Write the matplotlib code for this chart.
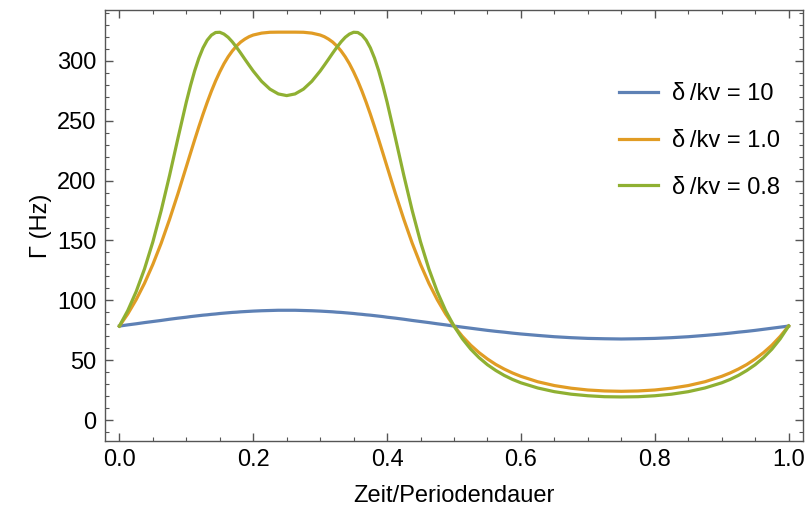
import matplotlib
matplotlib.use("Agg")
import matplotlib.pyplot as plt
from matplotlib.ticker import MultipleLocator

plt.rcParams['font.family'] = ['Liberation Sans', 'DejaVu Sans']

# Zeit in Einheiten der Periodendauer
t = [0, 0.0125, 0.025, 0.0375, 0.05, 0.0625, 0.075, 0.0875, 0.1, 0.10625,
     0.1125, 0.11875, 0.125, 0.13125, 0.1375, 0.14375, 0.15, 0.15625, 0.1625, 0.16875,
     0.175, 0.18125, 0.1875, 0.19375, 0.2, 0.2125, 0.225, 0.2375, 0.25,
     0.2625, 0.275, 0.2875, 0.3, 0.30625, 0.3125, 0.31875, 0.325, 0.33125, 0.3375,
     0.34375, 0.35, 0.35625, 0.3625, 0.36875, 0.375, 0.38125, 0.3875, 0.39375, 0.4,
     0.4125, 0.425, 0.4375, 0.45, 0.4625, 0.475, 0.4875, 0.5,
     0.5125, 0.525, 0.5375, 0.55, 0.5625, 0.575, 0.5875, 0.6, 0.625, 0.65,
     0.675, 0.7, 0.725, 0.75,
     0.775, 0.8, 0.825, 0.85, 0.875, 0.9, 0.9125, 0.925, 0.9375, 0.95,
     0.9625, 0.975, 0.9875, 1.0]

# Gamma (Hz) fuer delta/kv = 10
g_10 = [78.5, 79.5, 80.4, 81.4, 82.3, 83.2, 84.2, 85.1, 85.9, 86.4,
        86.8, 87.2, 87.6, 87.9, 88.3, 88.6, 89.0, 89.3, 89.6, 89.9,
        90.1, 90.4, 90.6, 90.8, 91.0, 91.3, 91.5, 91.7, 91.7,
        91.7, 91.5, 91.3, 91.0, 90.8, 90.6, 90.4, 90.1, 89.9, 89.6,
        89.3, 89.0, 88.6, 88.3, 87.9, 87.6, 87.2, 86.8, 86.4, 85.9,
        85.1, 84.2, 83.2, 82.3, 81.4, 80.4, 79.5, 78.5,
        77.6, 76.7, 75.8, 74.9, 74.1, 73.4, 72.6, 71.9, 70.7, 69.6,
        68.8, 68.2, 67.9, 67.7,
        67.9, 68.2, 68.8, 69.6, 70.7, 71.9, 72.6, 73.4, 74.1, 74.9,
        75.8, 76.7, 77.6, 78.5]

# delta/kv = 1.0
g_1 = [78.5, 88.6, 100.5, 114.2, 130.0, 147.8, 167.7, 189.1, 211.6, 222.9,
       234.1, 245.0, 255.5, 265.4, 274.7, 283.2, 290.8, 297.6, 303.4, 308.3,
       312.4, 315.7, 318.2, 320.2, 321.6, 323.2, 323.9, 324.0, 324.0,
       324.0, 323.9, 323.2, 321.6, 320.2, 318.2, 315.7, 312.4, 308.3, 303.4,
       297.6, 290.8, 283.2, 274.7, 265.4, 255.5, 245.0, 234.1, 222.9, 211.6,
       189.1, 167.7, 147.8, 130.0, 114.2, 100.5, 88.6, 78.5,
       69.9, 62.5, 56.3, 51.0, 46.4, 42.6, 39.3, 36.5, 32.0, 28.8,
       26.6, 25.1, 24.3, 24.0,
       24.3, 25.1, 26.6, 28.8, 32.0, 36.5, 39.3, 42.6, 46.4, 51.0,
       56.3, 62.5, 69.9, 78.5]

# delta/kv = 0.8
g_08 = [78.5, 91.4, 107.2, 126.2, 148.8, 175.1, 204.4, 235.4, 265.6, 279.3,
        291.7, 302.3, 310.9, 317.3, 321.5, 323.7, 323.9, 322.4, 319.7, 315.9,
        311.4, 306.5, 301.4, 296.4, 291.5, 282.9, 276.4, 272.4, 271.0,
        272.4, 276.4, 282.9, 291.5, 296.4, 301.4, 306.5, 311.4, 315.9, 319.7,
        322.4, 323.9, 323.7, 321.5, 317.3, 310.9, 302.3, 291.7, 279.3, 265.6,
        235.4, 204.4, 175.1, 148.8, 126.2, 107.2, 91.4, 78.5,
        67.9, 59.2, 52.1, 46.2, 41.4, 37.3, 33.9, 31.1, 26.8, 23.7,
        21.6, 20.3, 19.5, 19.3,
        19.5, 20.3, 21.6, 23.7, 26.8, 31.1, 33.9, 37.3, 41.4, 46.2,
        52.1, 59.2, 67.9, 78.5]

labels = ["δ\u2009/kv = 10", "δ\u2009/kv = 1.0", "δ\u2009/kv = 0.8"]
colors = ["#5E81B5", "#E19C24", "#8FB032"]
fs = 17

fig = plt.figure(figsize=(8.08, 5.12), dpi=100)
ax = fig.add_axes([105/808, 1 - 441/512, 698/808, 431/512])

for y, lab, c in zip([g_10, g_1, g_08], labels, colors):
    ax.plot(t, y, color=c, lw=2.3, label=lab, solid_joinstyle='round')

ax.set_xlim(-0.0215, 1.0215)
ax.set_ylim(-17.5, 342.5)
ax.xaxis.set_major_locator(MultipleLocator(0.2))
ax.xaxis.set_minor_locator(MultipleLocator(0.05))
ax.yaxis.set_major_locator(MultipleLocator(50))
ax.yaxis.set_minor_locator(MultipleLocator(10))
ax.xaxis.set_major_formatter(plt.FuncFormatter(lambda v, p: "%.1f" % v))

for s in ax.spines.values():
    s.set_color("#555555")
    s.set_linewidth(1.0)
ax.tick_params(which='both', direction='in', top=True, right=True,
               color="#555555", labelsize=fs, labelcolor='black')
ax.tick_params(which='major', length=5.5, width=1.0, pad=6)
ax.tick_params(which='minor', length=3, width=0.8)

ax.set_xlabel("Zeit/Periodendauer", fontsize=fs, labelpad=10)
ax.set_ylabel("Γ (Hz)", fontsize=fs, labelpad=4)

ax.legend(loc='upper left', bbox_to_anchor=(0.719, 0.857), frameon=False,
          fontsize=fs, borderpad=0, handlelength=1.65, handletextpad=0.62,
          labelspacing=1.04)

fig.savefig("out.png", dpi=100)
